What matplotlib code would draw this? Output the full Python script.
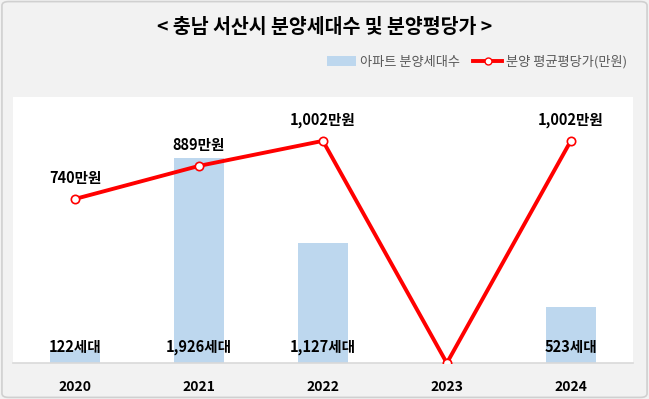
import matplotlib
matplotlib.use("Agg")
import matplotlib.pyplot as plt
from matplotlib.patches import FancyBboxPatch, Patch
from matplotlib.lines import Line2D

plt.rcParams['font.family'] = ['Noto Sans CJK KR', 'DejaVu Sans']

# data
years = ['2020', '2021', '2022', '2023', '2024']
units = [122, 1926, 1127, 0, 523]          # 아파트 분양세대수
price = [740, 889, 1002, 0, 1002]          # 분양 평균평당가(만원)
unit_labels = ['122세대', '1,926세대', '1,127세대', '', '523세대']
price_labels = ['740만원', '889만원', '1,002만원', '', '1,002만원']

bar_color = '#bdd7ee'
line_color = '#ff0000'

fig = plt.figure(figsize=(6.49, 3.99), dpi=100)
fig.patch.set_facecolor('#f2f2f2')

# outer rounded border
border = FancyBboxPatch((0.003, 0.004), 0.994, 0.992, boxstyle="round,pad=0,rounding_size=0.01",
                        transform=fig.transFigure, facecolor='none', edgecolor='#d0d0d0', lw=1.2)
fig.patches.append(border)

ax = fig.add_axes([0.02, 0.09, 0.955, 0.667])
ax.set_facecolor('white')
x = list(range(len(years)))

ax.bar(x, units, width=0.4, color=bar_color, zorder=2)
ax.set_ylim(0, 2500)
ax.set_xlim(-0.5, 4.5)
ax.set_yticks([])
ax.set_xticks(x)
ax.set_xticklabels(years, fontsize=10, fontweight='bold')
ax.tick_params(axis='x', length=0, pad=12)
for s in ['top', 'left', 'right']:
    ax.spines[s].set_visible(False)
ax.spines['bottom'].set_color('#d9d9d9')
ax.spines['bottom'].set_linewidth(1.2)

for i, lab in enumerate(unit_labels):
    if lab:
        ax.text(i, 150, lab, ha='center', va='center', fontsize=10.5, fontweight='semibold',
                color='black', zorder=5)

ax2 = ax.twinx()
ax2.plot(x, price, color=line_color, lw=2.8, marker='o', markersize=6,
         markerfacecolor='white', markeredgecolor=line_color, markeredgewidth=1.2, zorder=4)
ax2.set_ylim(0, 1200)
ax2.set_yticks([])
for s in ['top', 'left', 'right', 'bottom']:
    ax2.spines[s].set_visible(False)

for i, lab in enumerate(price_labels):
    if lab:
        ax2.annotate(lab, (i, price[i]), xytext=(0, 15), textcoords='offset points',
                     ha='center', va='center', fontsize=10.5, fontweight='semibold', color='black')

fig.text(0.5, 0.932, '< 충남 서산시 분양세대수 및 분양평당가 >', ha='center', va='center',
         fontsize=14, fontweight='bold', color='black')

handles = [Patch(facecolor=bar_color, edgecolor='none'),
           Line2D([0], [0], color=line_color, lw=2.8, marker='o', markersize=5,
                  markerfacecolor='white', markeredgecolor=line_color)]
fig.legend(handles, ['아파트 분양세대수', '분양 평균평당가(만원)'], loc='center right',
           bbox_to_anchor=(0.985, 0.845), ncol=2, frameon=False, fontsize=9.5,
           labelcolor='#595959', handlelength=2.2, handletextpad=0.3, columnspacing=1.0)

fig.savefig('out.png', dpi=100, facecolor=fig.get_facecolor())
